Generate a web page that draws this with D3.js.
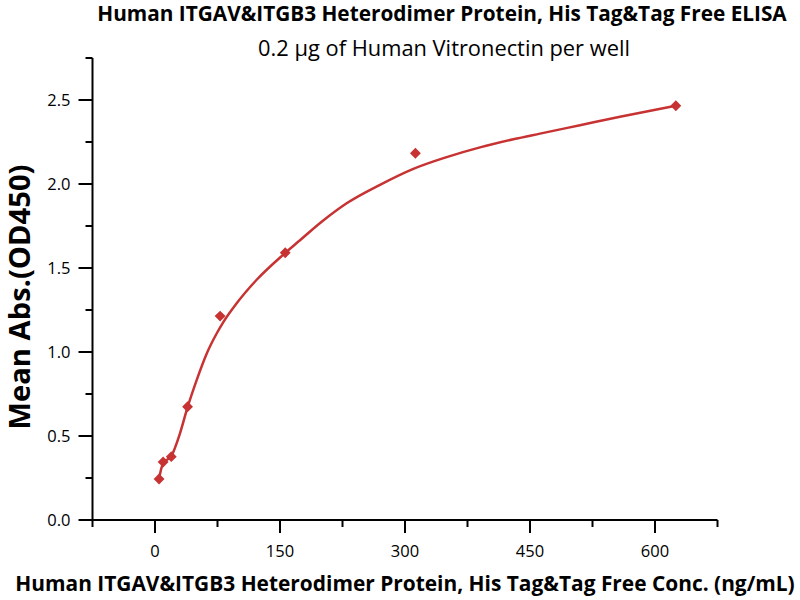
<!DOCTYPE html>
<html>
<head>
<meta charset="utf-8">
<script src="https://cdn.jsdelivr.net/npm/d3@7"></script>
<style>
  body { margin: 0; background: #fff; }
  svg { display: block; }
  text { font-family: "Open Sans", "Liberation Sans", sans-serif; fill: #000; }
</style>
</head>
<body>
<svg id="chart" width="800" height="600"></svg>
<script>
// Data
const concentrations = [4.88, 9.77, 19.53, 39.06, 78.13, 156.25, 312.5, 625];
const absorbances = [0.244, 0.345, 0.377, 0.674, 1.214, 1.591, 2.183, 2.466];
// Fitted curve
const fitX = [4.88, 9.77, 19.53, 30, 39, 50, 62, 74, 82, 98, 122, 154, 174, 200, 230, 270, 310, 350, 390, 430, 462, 510, 558, 625];
const fitY = [0.248, 0.338, 0.38, 0.516, 0.67, 0.833, 0.99, 1.11, 1.178, 1.29, 1.43, 1.58, 1.665, 1.775, 1.885, 1.995, 2.09, 2.16, 2.218, 2.266, 2.30, 2.35, 2.40, 2.466];
const xTicks = [0, 150, 300, 450, 600];
const xMinorTicks = [-75, 75, 225, 375, 525, 675];
const yTicks = [0.0, 0.5, 1.0, 1.5, 2.0, 2.5];
const yMinorTicks = [0.25, 0.75, 1.25, 1.75, 2.25, 2.75];

const titleText = "Human ITGAV&ITGB3 Heterodimer Protein, His Tag&Tag Free ELISA";
const subtitleText = "0.2 μg of Human Vitronectin per well";
const xTitleText = "Human ITGAV&ITGB3 Heterodimer Protein, His Tag&Tag Free Conc. (ng/mL)";
const yTitleText = "Mean Abs.(OD450)";

const color = "#c73232";
const svg = d3.select("#chart");

const x = d3.scaleLinear().domain([-75, 675]).range([92.5, 717.5]);
const y = d3.scaleLinear().domain([0, 2.75]).range([520, 58]);

function fitWidth(sel, target) {
  const w = sel.node().getComputedTextLength();
  const fs = parseFloat(sel.attr("font-size"));
  sel.attr("font-size", fs * target / w);
}

// Axes
const axisColor = "#000";
const xAxisG = svg.append("g").attr("transform", `translate(0,${y(0)})`);
xAxisG.append("line").attr("x1", x(-75)).attr("x2", x(675)).attr("stroke", axisColor).attr("stroke-width", 2);
xAxisG.selectAll(".maj").data(xTicks).join("line")
  .attr("x1", d => x(d)).attr("x2", d => x(d)).attr("y1", 0).attr("y2", 13)
  .attr("stroke", axisColor).attr("stroke-width", 2);
xAxisG.selectAll(".min").data(xMinorTicks).join("line")
  .attr("x1", d => x(d)).attr("x2", d => x(d)).attr("y1", 0).attr("y2", 7)
  .attr("stroke", axisColor).attr("stroke-width", 2);
xAxisG.selectAll(".lab").data(xTicks).join("text")
  .attr("x", d => x(d)).attr("y", 37).attr("text-anchor", "middle")
  .attr("font-size", 16.5).attr("fill", "#111").text(d => d);

const yAxisG = svg.append("g").attr("transform", `translate(${x(-75)},0)`);
yAxisG.append("line").attr("y1", y(0)).attr("y2", y(2.75)).attr("stroke", axisColor).attr("stroke-width", 2);
yAxisG.selectAll(".maj").data(yTicks).join("line")
  .attr("y1", d => y(d)).attr("y2", d => y(d)).attr("x1", 0).attr("x2", -14)
  .attr("stroke", axisColor).attr("stroke-width", 2);
yAxisG.selectAll(".min").data(yMinorTicks).join("line")
  .attr("y1", d => y(d)).attr("y2", d => y(d)).attr("x1", 0).attr("x2", -7)
  .attr("stroke", axisColor).attr("stroke-width", 2);
yAxisG.selectAll(".lab").data(yTicks).join("text")
  .attr("x", -22).attr("y", d => y(d) + 6).attr("text-anchor", "end")
  .attr("font-size", 16.5).attr("fill", "#111").text(d => d.toFixed(1));

// Fit curve
const line = d3.line().x((d, i) => x(fitX[i])).y((d, i) => y(fitY[i])).curve(d3.curveMonotoneX);
svg.append("path").datum(fitX).attr("d", line)
  .attr("fill", "none").attr("stroke", color).attr("stroke-width", 2.5);

// Points
svg.selectAll(".pt").data(concentrations).join("path")
  .attr("d", d3.symbol().type(d3.symbolDiamond2).size(75))
  .attr("transform", (d, i) => `translate(${x(d)},${y(absorbances[i])})`)
  .attr("fill", color);

// Titles
const t = svg.append("text").attr("x", 442).attr("y", 21).attr("text-anchor", "middle")
  .attr("font-weight", "bold").attr("font-size", 18).text(titleText);
fitWidth(t, 690);
const st = svg.append("text").attr("x", 444).attr("y", 56).attr("text-anchor", "middle")
  .attr("font-size", 17).attr("fill", "#111").text(subtitleText);
fitWidth(st, 372);
const xt = svg.append("text").attr("x", 405).attr("y", 591).attr("text-anchor", "middle")
  .attr("font-weight", "bold").attr("font-size", 18).text(xTitleText);
fitWidth(xt, 780);
const yt = svg.append("text").attr("transform", "translate(30,297) rotate(-90)").attr("text-anchor", "middle")
  .attr("font-weight", "bold").attr("font-size", 22).text(yTitleText);
fitWidth(yt, 265);
</script>
</body>
</html>
